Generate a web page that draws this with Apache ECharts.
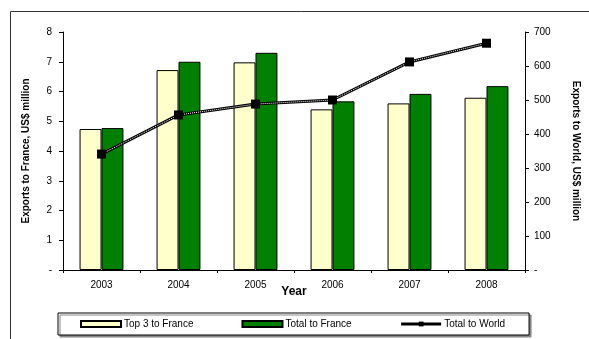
<!DOCTYPE html>
<html>
<head>
<meta charset="utf-8">
<script src="https://cdn.jsdelivr.net/npm/echarts@6/dist/echarts.min.js"></script>
<style>
  html, body { margin: 0; padding: 0; background: #fff; }
  #chart { width: 589px; height: 339px; }
</style>
</head>
<body>
<div id="chart"></div>
<script>
// Export data, US$ million
const years = ['2003', '2004', '2005', '2006', '2007', '2008'];
const top3ToFrance = [4.74, 6.72, 6.98, 5.40, 5.60, 5.79];
const totalToFrance = [4.77, 7.00, 7.30, 5.67, 5.92, 6.18];
const totalToWorld = [341, 456, 488, 500, 612, 667];

const leftTicks = { 0: '-', 1: '1', 2: '2', 3: '3', 4: '4', 5: '5', 6: '6', 7: '7', 8: '8' };

const font = 'Liberation Sans, Arial, sans-serif';
const chart = echarts.init(document.getElementById('chart'), null, { renderer: 'canvas' });

const axisLine = { show: true, lineStyle: { color: '#000', width: 1 } };

chart.setOption({
  animation: false,
  textStyle: { fontFamily: font },
  graphic: [{
    // outer frame, left and top edges
    type: 'polyline',
    shape: { points: [[10.5, 340], [10.5, 11.5], [600, 11.5]] },
    style: { fill: 'none', stroke: '#333', lineWidth: 1 },
    z: -1
  }],
  grid: { left: 63, right: 57, top: 32, bottom: 69 },
  legend: {
    left: 58, top: 313,
    padding: [6, 24, 6, 22],
    itemGap: 48,
    itemWidth: 40, itemHeight: 6,
    borderColor: '#000', borderWidth: 1,
    backgroundColor: '#fff',
    shadowColor: '#888', shadowOffsetX: 2, shadowOffsetY: 2, shadowBlur: 0,
    textStyle: { fontFamily: font, fontSize: 10, color: '#000', padding: [0, 0, 0, -2] },
    data: [
      { name: 'Top 3 to France', icon: 'rect' },
      { name: 'Total to France', icon: 'rect' },
      { name: 'Total to World', lineStyle: { color: '#000', width: 3 } }
    ]
  },
  xAxis: {
    type: 'category',
    data: years,
    name: 'Year',
    nameLocation: 'middle',
    nameGap: 16,
    nameMoveOverlap: false,
    nameTextStyle: { fontFamily: font, fontWeight: 'bold', fontSize: 12, color: '#000' },
    axisLine: axisLine,
    axisTick: { show: true, length: 3, lineStyle: { color: '#000' } },
    axisLabel: { fontSize: 10, color: '#000', margin: 10 }
  },
  yAxis: [{
    type: 'value',
    min: 0, max: 8, interval: 1,
    name: 'Exports to France, US$ million',
    nameLocation: 'middle',
    nameGap: 32,
    nameTextStyle: { fontFamily: font, fontWeight: 'bold', fontSize: 10, color: '#000' },
    axisLine: axisLine,
    axisTick: { show: true, length: 4, lineStyle: { color: '#000' } },
    axisLabel: { fontSize: 10, color: '#000', margin: 11, formatter: v => leftTicks[v] },
    splitLine: { show: false }
  }, {
    type: 'value',
    min: 0, max: 700, interval: 100,
    position: 'right',
    name: 'Exports to World, US$ million',
    nameLocation: 'middle',
    nameGap: 46,
    nameRotate: -90,
    nameTextStyle: { fontFamily: font, fontWeight: 'bold', fontSize: 10, color: '#000' },
    axisLine: axisLine,
    axisTick: { show: true, length: 4, lineStyle: { color: '#000' } },
    axisLabel: { fontSize: 10, color: '#000', margin: 9, formatter: v => (v === 0 ? '-' : String(v)) },
    splitLine: { show: false }
  }],
  series: [{
    name: 'Top 3 to France',
    type: 'bar',
    data: top3ToFrance,
    barGap: '0%',
    barCategoryGap: '43%',
    itemStyle: { color: '#FFFFCC', borderColor: '#000', borderWidth: 1 }
  }, {
    name: 'Total to France',
    type: 'bar',
    data: totalToFrance,
    itemStyle: { color: '#008000', borderColor: '#000', borderWidth: 1 }
  }, {
    // black body of the world line
    name: 'worldBody',
    type: 'line',
    yAxisIndex: 1,
    data: totalToWorld,
    symbol: 'none',
    silent: true,
    lineStyle: { color: '#000', width: 3 },
    z: 4
  }, {
    // white dotted core of the world line
    name: 'worldCore',
    type: 'line',
    yAxisIndex: 1,
    data: totalToWorld,
    symbol: 'none',
    silent: true,
    lineStyle: { color: '#fff', width: 1, type: [1, 1] },
    z: 5
  }, {
    name: 'Total to World',
    type: 'line',
    yAxisIndex: 1,
    data: totalToWorld,
    symbol: 'rect',
    symbolSize: 9,
    lineStyle: { width: 0, color: '#000' },
    itemStyle: { color: '#000' },
    z: 6
  }]
});
</script>
</body>
</html>
